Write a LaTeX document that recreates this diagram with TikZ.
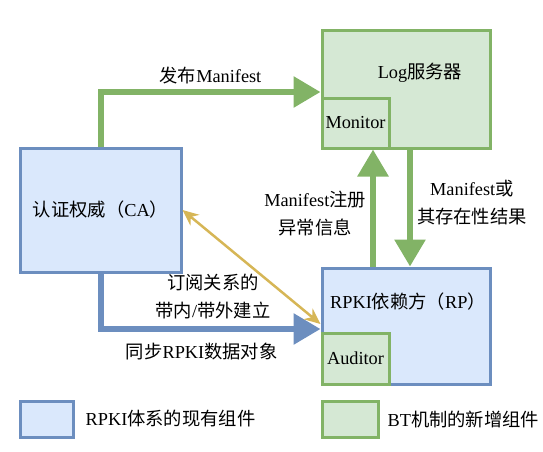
\documentclass[tikz,border=0pt]{standalone}
\usepackage{fontspec}
\setmainfont{Liberation Serif}
\newfontfamily\cjkfont{Noto Sans CJK SC}
\usetikzlibrary{arrows.meta,positioning,calc}
\definecolor{rpkiblue}{HTML}{6C8EBF}
\definecolor{rpkifill}{HTML}{DAE8FC}
\definecolor{btgreen}{HTML}{82B366}
\definecolor{btfill}{HTML}{D5E8D4}
\definecolor{subgold}{HTML}{D6B656}
\newcommand{\zh}[1]{{\cjkfont #1}}

\tikzset{
  bluebox/.style={draw=rpkiblue, fill=rpkifill, line width=3pt, inner sep=0pt},
  greenbox/.style={draw=btgreen, fill=btfill, line width=3pt, inner sep=0pt},
  bigarrow/.style={line width=6pt, -{Triangle[length=27pt,width=30pt]}},
  lbl/.style={align=center, inner sep=1pt, text=black}
}

\begin{document}
\begin{tikzpicture}[x=1pt, y=-1pt, font=\fontsize{18.3}{28}\selectfont]
    \useasboundingbox (0,0) rectangle (543,451);
    % Boxes
    \node[bluebox, minimum width=161pt, minimum height=124pt] (ca) at (100.5, 210) {\zh{认证权威（}CA\zh{）}};
    \node[greenbox, minimum width=168pt, minimum height=118pt] (log) at (406, 89) {};
    \node[lbl] (logname) at (420, 73) {Log\zh{服务器}};
    \node[greenbox, minimum width=67pt, minimum height=50pt] (monitor) at (355.5, 123) {Monitor};
    \node[bluebox, minimum width=168pt, minimum height=116pt] (rp) at (406, 326) {};
    \node[lbl] (rpname) at (408, 302) {RPKI\zh{依赖方（}RP\zh{）}};
    \node[greenbox, minimum width=67pt, minimum height=51pt] (auditor) at (355.5, 358.5) {Auditor};
    
    % Legend
    \node[bluebox, minimum width=53pt, minimum height=36pt] (oldkey) at (46.5, 419) {};
    \node[lbl, right=10pt of oldkey] (oldtext) {RPKI\zh{体系的现有组件}};
    \node[greenbox, minimum width=56pt, minimum height=36pt] (newkey) at (350, 419) {};
    \node[lbl, right=7pt of newkey] (newtext) {BT\zh{机制的新增组件}};
    
    % Paths
    \draw[bigarrow, btgreen] (ca.north) |- node[lbl, pos=0.75, above=4pt] (publish) {\zh{发布}Manifest} ([yshift=-3pt]log.west);
    \draw[bigarrow, rpkiblue] (ca.south) |- node[lbl, pos=0.73, below=10pt] (sync) {\zh{同步}RPKI\zh{数据对象}} ([yshift=-3pt]rp.west);
    \draw[bigarrow, btgreen] ([xshift=-33pt]rp.north) -- node[lbl, left=3pt, pos=0.45] (report) {Manifest\zh{注册}\\\zh{异常信息}} ([xshift=-33pt]log.south);
    \draw[bigarrow, btgreen] ([xshift=4pt]log.south) -- node[lbl, right=3pt, pos=0.45] (result) {Manifest\zh{或}\\\zh{其存在性结果}} ([xshift=4pt]rp.north);
    \draw[line width=2.5pt, subgold, {Stealth[length=16pt,width=14pt]}-{Stealth[length=16pt,width=14pt]}] (ca.east) -- ([yshift=2pt]rp.west);
    \node[lbl] (subscribe) at (213, 297) {\zh{订阅关系的}\\\zh{带内}/\zh{带外建立}};
\end{tikzpicture}
\end{document}
